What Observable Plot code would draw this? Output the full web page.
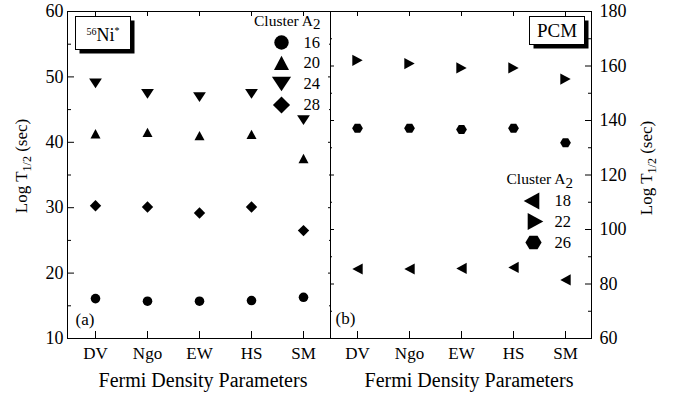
<!DOCTYPE html>
<html><head><meta charset="utf-8">
<script src="https://cdn.jsdelivr.net/npm/d3@7"></script>
<script src="https://cdn.jsdelivr.net/npm/@observablehq/plot@0.6"></script>
<style>
html,body{margin:0;padding:0;background:#fff;}
#wrap{position:relative;width:681px;height:396px;overflow:hidden;background:#fff;}
#wrap svg{position:absolute;top:0;overflow:visible;}
</style></head><body><div id="wrap"></div>
<script>
// ---- data ----
const categories = ["DV", "Ngo", "EW", "HS", "SM"];
// panel (a): 56Ni*
const niA16 = [16.1, 15.7, 15.7, 15.8, 16.3];
const niA20 = [41.3, 41.5, 41.0, 41.2, 37.5];
const niA24 = [49.0, 47.4, 46.9, 47.4, 43.4];
const niA28 = [30.3, 30.1, 29.2, 30.1, 26.5];
// panel (b): PCM
const pcmA18 = [85.5, 85.5, 85.7, 86.1, 81.5];
const pcmA22 = [162.1, 160.9, 159.3, 159.3, 155.2];
const pcmA26 = [137.2, 137.2, 136.7, 137.2, 131.8];
// ticks
const ticksA = [10, 20, 30, 40, 50, 60];
const minorA = [15, 25, 35, 45, 55];
const ticksB = [60, 80, 100, 120, 140, 160, 180];
const minorB = [70, 90, 110, 130, 150, 170];
const legendA = ["16", "20", "24", "28"];
const legendB = ["18", "22", "26"];
const xTitle = "Fermi Density Parameters";

// ---- symbols ----
function mk(fn) { return { draw(ctx, size) { const s = Math.sqrt(size / Math.PI) / 5; fn(ctx, s); } }; }
function poly(ctx, pts, s) { ctx.moveTo(pts[0][0] * s, pts[0][1] * s); for (let i = 1; i < pts.length; i++) ctx.lineTo(pts[i][0] * s, pts[i][1] * s); ctx.closePath(); }
const symCircle = mk((c, s) => { c.moveTo(4.8 * s, 0); c.arc(0, 0, 4.8 * s, 0, 2 * Math.PI); c.closePath(); });
const symUp = mk((c, s) => poly(c, [[0, -4.8], [5, 4.6], [-5, 4.6]], s));
const symDown = mk((c, s) => poly(c, [[-6.4, -4.9], [6.4, -4.9], [0, 4.9]], s));
const symDiamond = mk((c, s) => poly(c, [[0, -5.7], [5.7, 0], [0, 5.7], [-5.7, 0]], s));
const symRight = mk((c, s) => poly(c, [[-5.2, -5.6], [5.2, 0], [-5.2, 5.6]], s));
const symLeft = mk((c, s) => poly(c, [[5.2, -5.6], [-5.2, 0], [5.2, 5.6]], s));
const symHex = mk((c, s) => { const p = []; for (let k = 0; k < 6; k++) { const a = Math.PI / 3 * k; p.push([5.4 * Math.cos(a), 5.2 * Math.sin(a)]); } poly(c, p, s); });

const rowsOf = vals => categories.map((c, i) => ({ cat: c, v: vals[i] }));
const FONT = '"Liberation Serif", "Times New Roman", serif';

function legendMarks(labels, syms, dxs, dys, labelDx) {
  const out = [];
  labels.forEach((t, i) => {
    out.push(Plot.dot([t], { frameAnchor: "top-left", dx: dxs[i], dy: dys[i], r: 7.5, symbol: syms[i], fill: "black", stroke: "none" }));
    out.push(Plot.text([t], { frameAnchor: "top-left", lineAnchor: "middle", dx: labelDx, dy: dys[i], text: d => d, textAnchor: "start", fontSize: 16.5, fill: "black" }));
  });
  return out;
}

// ---- panel (a) ----
const p1 = Plot.plot({
  width: 330, height: 396,
  marginLeft: 67, marginRight: 0, marginTop: 11, marginBottom: 58,
  x: { type: "point", domain: categories, padding: 0.5 },
  y: { domain: [10, 60] },
  style: { fontFamily: FONT, fontSize: "17px", color: "black", background: "white", overflow: "visible" },
  marks: [
    Plot.axisY(ticksA, { anchor: "left", tickSize: 0, tickPadding: 4, fontSize: 18, label: null }),
    Plot.axisY(ticksA, { anchor: "left", tickSize: 7, dx: 7, fill: "none", label: null }),
    Plot.axisY(minorA, { anchor: "left", tickSize: 4, dx: 4, fill: "none", label: null }),
    Plot.axisY(ticksA, { anchor: "right", tickSize: 3, dx: -3, fill: "none", label: null }),
    Plot.axisY(minorA, { anchor: "right", tickSize: 2, dx: -2, fill: "none", label: null }),
    Plot.axisX(categories, { anchor: "bottom", tickSize: 0, tickPadding: 8, fontSize: 17, label: null }),
    Plot.axisX(categories, { anchor: "bottom", tickSize: 7, dy: -7, fill: "none", label: null }),
    Plot.axisX(categories, { anchor: "top", tickSize: 4, dy: 4, fill: "none", label: null }),
    Plot.dot(rowsOf(niA16), { x: "cat", y: "v", r: 5, symbol: symCircle, fill: "black", stroke: "none" }),
    Plot.dot(rowsOf(niA20), { x: "cat", y: "v", r: 5, symbol: symUp, fill: "black", stroke: "none" }),
    Plot.dot(rowsOf(niA24), { x: "cat", y: "v", r: 5, symbol: symDown, fill: "black", stroke: "none" }),
    Plot.dot(rowsOf(niA28), { x: "cat", y: "v", r: 5, symbol: symDiamond, fill: "black", stroke: "none" }),
    ...legendMarks(legendA, [symCircle, symUp, symDown, symDiamond], [214, 214, 214, 214], [31, 51.5, 72.5, 93.5], 236),
    Plot.text(["(a)"], { frameAnchor: "bottom-left", lineAnchor: "middle", dx: 8, dy: -18.5, text: d => d, textAnchor: "start", fontSize: 17 }),
    Plot.text([xTitle], { frameAnchor: "bottom", lineAnchor: "middle", dx: 4, dy: 42.5, text: d => d, fontSize: 20 }),
    Plot.frame({ stroke: "black" })
  ]
});

// ---- panel (b) ----
const p2 = Plot.plot({
  width: 351, height: 396,
  marginLeft: 0, marginRight: 90, marginTop: 11, marginBottom: 58,
  x: { type: "point", domain: categories, padding: 0.5 },
  y: { domain: [60, 180] },
  style: { fontFamily: FONT, fontSize: "17px", color: "black", background: "white", overflow: "visible" },
  marks: [
    Plot.axisY(ticksB, { anchor: "right", tickSize: 0, tickPadding: 8, fontSize: 18, label: null }),
    Plot.axisY(ticksB, { anchor: "right", tickSize: 7, dx: -7, fill: "none", label: null }),
    Plot.axisY(minorB, { anchor: "right", tickSize: 4, dx: -4, fill: "none", label: null }),
    Plot.axisY(ticksB, { anchor: "left", tickSize: 4, dx: 4, fill: "none", label: null }),
    Plot.axisY(minorB, { anchor: "left", tickSize: 2, dx: 2, fill: "none", label: null }),
    Plot.axisX(categories, { anchor: "bottom", tickSize: 0, tickPadding: 8, fontSize: 17, label: null }),
    Plot.axisX(categories, { anchor: "bottom", tickSize: 7, dy: -7, fill: "none", label: null }),
    Plot.axisX(categories, { anchor: "top", tickSize: 4, dy: 4, fill: "none", label: null }),
    Plot.dot(rowsOf(pcmA18), { x: "cat", y: "v", r: 5, symbol: symLeft, fill: "black", stroke: "none" }),
    Plot.dot(rowsOf(pcmA22), { x: "cat", y: "v", r: 5, symbol: symRight, fill: "black", stroke: "none" }),
    Plot.dot(rowsOf(pcmA26), { x: "cat", y: "v", r: 5, symbol: symHex, fill: "black", stroke: "none" }),
    ...legendMarks(legendB, [symLeft, symRight, symHex], [201, 205, 203], [189.5, 210, 231], 224),
    Plot.text(["(b)"], { frameAnchor: "bottom-left", lineAnchor: "middle", dx: 5, dy: -20, text: d => d, textAnchor: "start", fontSize: 17 }),
    Plot.text([xTitle], { frameAnchor: "bottom", lineAnchor: "middle", dx: 8, dy: 42, text: d => d, fontSize: 20 }),
    Plot.frame({ stroke: "black" })
  ]
});

const wrap = document.getElementById("wrap");
wrap.appendChild(p1);
wrap.appendChild(p2);
p1.style.left = "0px";
p2.style.left = "330px";

// ---- rich text (sub/superscripts) and boxes ----
function yLabel(svg, x, y) {
  const t = svg.append("text").attr("transform", `translate(${x},${y}) rotate(-90)`)
    .attr("text-anchor", "middle").attr("font-size", 17).attr("fill", "black").attr("font-family", FONT);
  t.append("tspan").text("Log T");
  t.append("tspan").attr("font-size", 12).attr("dy", 4).text("1/2");
  t.append("tspan").attr("dy", -4).text("\u00a0(sec)");
}
function clusterTitle(svg, x, y) {
  const t = svg.append("text").attr("x", x).attr("y", y).attr("text-anchor", "start").attr("font-size", 15.5).attr("fill", "black").attr("font-family", FONT);
  t.append("tspan").text("Cluster A");
  t.append("tspan").attr("font-size", 15).attr("dy", 3.5).text("2");
}
function shadowBox(svg, x, y, w, h) {
  svg.append("rect").attr("x", x + 4).attr("y", y + 4).attr("width", w).attr("height", h).attr("fill", "black");
  svg.append("rect").attr("x", x).attr("y", y).attr("width", w).attr("height", h).attr("fill", "white").attr("stroke", "black").attr("stroke-width", 1);
}

const s1 = d3.select(p1), s2 = d3.select(p2);
yLabel(s1, 27, 166);
yLabel(s2, 322, 168);
clusterTitle(s1, 254, 25.5);
clusterTitle(s2, 176.5, 184);

shadowBox(s1, 75.5, 16.5, 55, 33);
const ni = s1.append("text").attr("x", 103).attr("y", 41).attr("text-anchor", "middle").attr("font-family", FONT).attr("fill", "black");
ni.append("tspan").attr("font-size", 10).attr("dy", -6).text("56");
ni.append("tspan").attr("font-size", 18).attr("dy", 6).text("Ni");
ni.append("tspan").attr("font-size", 10).attr("dy", -7).text("*");

shadowBox(s2, 199.5, 16.5, 55, 28);
s2.append("text").attr("x", 227).attr("y", 37).attr("text-anchor", "middle").attr("font-size", 19).attr("font-family", FONT).attr("fill", "black").text("PCM");
</script></body></html>
